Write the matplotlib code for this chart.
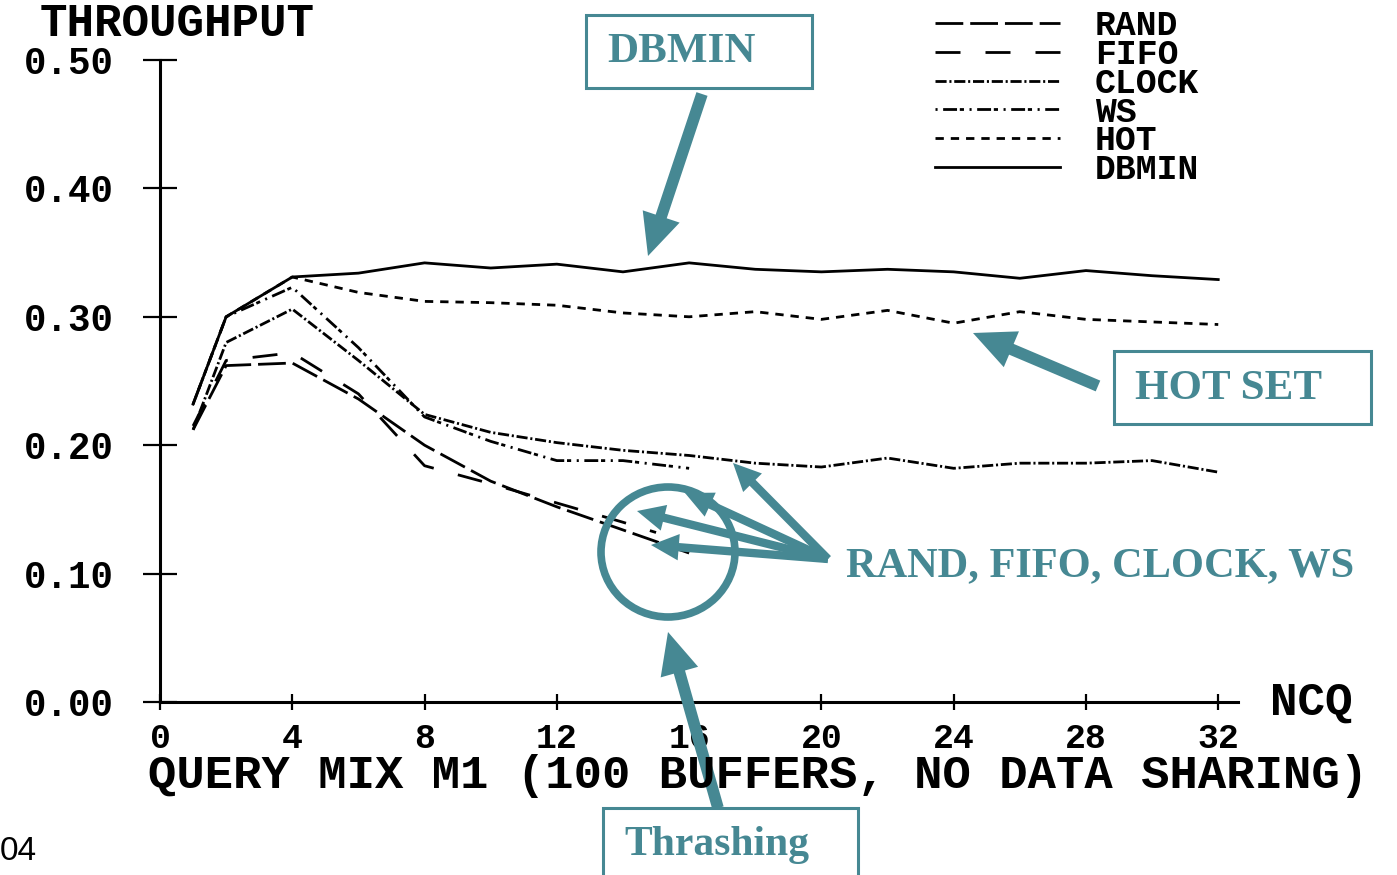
import matplotlib
matplotlib.use("Agg")
import matplotlib.pyplot as plt
from matplotlib.patches import Ellipse, Rectangle

W, H = 1397, 875
TEAL = "#468893"
MONO = "Liberation Mono"
SERIF = "Liberation Serif"

plt.rcParams["lines.scale_dashes"] = False

# Throughput versus number of concurrent queries (query mix M1)
ncq_full = [1, 2, 4, 6, 8, 10, 12, 14, 16, 18, 20, 22, 24, 26, 28, 30, 32]
dbmin = [0.232, 0.300, 0.331, 0.334, 0.342, 0.338, 0.341, 0.335, 0.342,
         0.337, 0.335, 0.337, 0.335, 0.330, 0.336, 0.332, 0.329]
hot = [0.232, 0.300, 0.331, 0.319, 0.312, 0.311, 0.309, 0.303, 0.300,
       0.304, 0.298, 0.305, 0.295, 0.304, 0.298, 0.296, 0.294]
clock = [0.212, 0.280, 0.306, 0.266, 0.224, 0.210, 0.202, 0.196, 0.192,
         0.186, 0.183, 0.190, 0.182, 0.186, 0.186, 0.188, 0.179]

ncq_short = [1, 2, 4, 6, 8, 10, 12, 14, 16]
ws = [0.232, 0.300, 0.323, 0.276, 0.222, 0.203, 0.188, 0.188, 0.182]
rand = [0.212, 0.262, 0.264, 0.236, 0.200, 0.172, 0.152, 0.134, 0.116]

ncq_fifo = [1, 2, 4, 6, 8, 10, 12, 14, 15]
fifo = [0.215, 0.266, 0.272, 0.240, 0.184, 0.170, 0.155, 0.140, 0.132]

x_ticks = [0, 4, 8, 12, 16, 20, 24, 28, 32]
y_ticks = [0.0, 0.1, 0.2, 0.3, 0.4, 0.5]
y_tick_labels = ["0.00", "0.10", "0.20", "0.30", "0.40", "0.50"]


def fp(x, y):
    """Pixel position (from top-left) to figure fraction."""
    return (x / W, 1 - y / H)


fig = plt.figure(figsize=(W / 100, H / 100), dpi=100)
fig.patch.set_facecolor("white")

x0_px, x1_px, y0_px, y1_px = 160, 1238, 702, 60
ax = fig.add_axes([x0_px / W, 1 - y0_px / H, (x1_px - x0_px) / W, (y0_px - y1_px) / H])
ax.set_xlim(0, (x1_px - x0_px) / 33.07)
ax.set_ylim(0, 0.5)
ax.patch.set_alpha(0)

lw = 2.0
ax.plot(ncq_short, rand, color="black", lw=lw, linestyle=(0, (20, 5)), label="RAND")
ax.plot(ncq_fifo, fifo, color="black", lw=lw, linestyle=(0, (18, 18)), label="FIFO")
ax.plot(ncq_full, clock, color="black", lw=lw, linestyle=(0, (8, 2, 1.5, 2)), label="CLOCK")
ax.plot(ncq_short, ws, color="black", lw=lw, linestyle=(0, (1.5, 4, 10, 2, 3, 4)), label="WS")
ax.plot(ncq_full, hot, color="black", lw=lw, linestyle=(0, (6, 5)), label="HOT")
ax.plot(ncq_full, dbmin, color="black", lw=lw, linestyle="-", label="DBMIN")

for side in ("top", "right"):
    ax.spines[side].set_visible(False)
for side in ("left", "bottom"):
    ax.spines[side].set_linewidth(2.2)
    ax.spines[side].set_color("black")

ax.set_xticks(x_ticks)
ax.set_xticklabels([str(t) for t in x_ticks])
ax.set_yticks(y_ticks)
ax.set_yticklabels(y_tick_labels)
ax.tick_params(axis="y", direction="inout", length=25, width=1.6, pad=21)
ax.tick_params(axis="x", direction="inout", length=11, width=1.6, pad=9)
for lab in ax.get_yticklabels():
    lab.set_fontfamily(MONO)
    lab.set_fontweight("bold")
    lab.set_fontsize(27)
for lab in ax.get_xticklabels():
    lab.set_fontfamily(MONO)
    lab.set_fontweight("bold")
    lab.set_fontsize(25)

leg = ax.legend(loc="upper left", bbox_to_anchor=fp(935, 9), bbox_transform=fig.transFigure,
                frameon=False, borderpad=0, borderaxespad=0, handlelength=3.6,
                handletextpad=1.0, labelspacing=-0.12,
                prop={"family": MONO, "weight": "bold", "size": 25})

fig.text(*fp(40, 24), "THROUGHPUT", family=MONO, weight="bold", fontsize=33,
         ha="left", va="center")
fig.text(*fp(1270, 703), "NCQ", family=MONO, weight="bold", fontsize=33,
         ha="left", va="center")
fig.text(*fp(148, 776), "QUERY MIX M1 (100 BUFFERS, NO DATA SHARING)", family=MONO,
         weight="bold", fontsize=34, ha="left", va="center")
fig.text(*fp(0, 852), "04", family="Liberation Sans", fontsize=24, ha="left", va="center")

# Callout boxes
def box(x0, y0, x1, y1):
    fig.patches.append(Rectangle(fp(x0, y1), (x1 - x0) / W, (y1 - y0) / H,
                                 transform=fig.transFigure, fill=False,
                                 ec=TEAL, lw=2.2, zorder=5))

box(586, 15, 812, 88)
fig.text(*fp(607, 52), "DBMIN", family=SERIF, weight="bold", fontsize=31, color=TEAL,
         ha="left", va="center")
box(1114, 351, 1371, 424)
fig.text(*fp(1135, 389), "HOT SET", family=SERIF, weight="bold", fontsize=31, color=TEAL,
         ha="left", va="center")
box(603, 808, 858, 900)
fig.text(*fp(624, 845), "Thrashing", family=SERIF, weight="bold", fontsize=30, color=TEAL,
         ha="left", va="center")
fig.text(*fp(846, 566), "RAND, FIFO, CLOCK, WS", family=SERIF, weight="bold", fontsize=30.5,
         color=TEAL, ha="left", va="center")

fig.patches.append(Ellipse(fp(668, 552), 134 / W, 130 / H, transform=fig.transFigure,
                           fill=False, ec=TEAL, lw=5.5, zorder=5))


def arrow(start, tip, big=True):
    style = ("simple,head_length=1.5,head_width=1.4,tail_width=0.42" if big
             else "simple,head_length=1.0,head_width=0.95,tail_width=0.3")
    ax.annotate("", xy=fp(*tip), xycoords="figure fraction",
                xytext=fp(*start), textcoords="figure fraction",
                arrowprops=dict(arrowstyle=style, color=TEAL, mutation_scale=20,
                                shrinkA=0, shrinkB=0, lw=0),
                annotation_clip=False, zorder=6)


arrow((702, 94), (648, 256))
arrow((1098, 386), (973, 333))
arrow((718, 808), (668, 632))
origin = (828, 559)
for tip in [(733, 463), (685, 493), (637, 511), (651, 545)]:
    arrow(origin, tip, big=False)

fig.savefig("out.png", dpi=100, facecolor="white")
